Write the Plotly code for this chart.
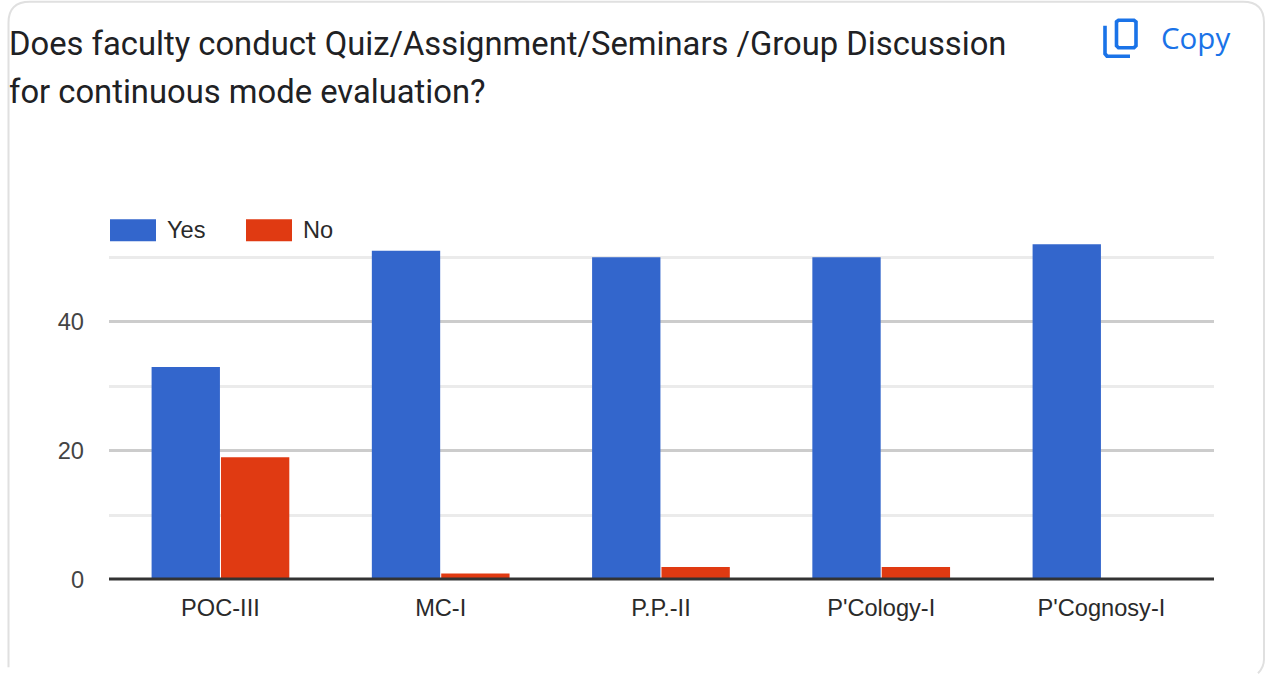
import plotly.graph_objects as go

categories = ["POC-III", "MC-I", "P.P.-II", "P'Cology-I", "P'Cognosy-I"]
yes_values = [33, 51, 50, 50, 52]
no_values = [19, 1, 2, 2, 0]
series_names = ["Yes", "No"]
title_lines = ["Does faculty conduct Quiz/Assignment/Seminars /Group Discussion",
               "for continuous mode evaluation?"]

W, H = 1265, 674
L, R, T, B = 109, 1214, 240.7, 580.5
BLUE, RED = "#3366cc", "#e03a12"


def px(x):
    return (x - L) / (R - L)


def py(y):
    return (B - y) / (B - T)


def path(points, close=False):
    s = "M " + " L ".join(f"{px(x):.5f},{py(y):.5f}" for x, y in points)
    return s + (" Z" if close else "")


def rect(x0, y0, x1, y1, color):
    return dict(type="rect", xref="paper", yref="paper", x0=px(x0), x1=px(x1), y0=py(y0), y1=py(y1),
                fillcolor=color, line=dict(width=0), layer="above")


def text(x, y, s, size, color, family, anchor="left", weight=None):
    return dict(xref="paper", yref="paper", x=px(x), y=py(y), text=s, showarrow=False,
                xanchor=anchor, yanchor="middle", xshift=0, yshift=0,
                font=dict(size=size, color=color, family=family, weight=weight), borderpad=0, borderwidth=0)


fig = go.Figure()
fig.add_bar(x=categories, y=yes_values, name=series_names[0], marker=dict(color=BLUE, line=dict(width=0)))
fig.add_bar(x=categories, y=no_values, name=series_names[1], marker=dict(color=RED, line=dict(width=0)))

border = dict(type="path", xref="paper", yref="paper", layer="below",
              path=(f"M {px(8.5):.5f},{py(668):.5f} L {px(8.5):.5f},{py(22):.5f} "
                    f"Q {px(8.5):.5f},{py(1):.5f} {px(30):.5f},{py(1):.5f} "
                    f"L {px(1243):.5f},{py(1):.5f} Q {px(1264):.5f},{py(1):.5f} {px(1264):.5f},{py(22):.5f} "
                    f"L {px(1264):.5f},{py(660):.5f} Q {px(1264):.5f},{py(668):.5f} {px(1258):.5f},{py(674):.5f}"),
              line=dict(color="#e0e0e0", width=2))

icon_front = dict(type="path", xref="paper", yref="paper", layer="above",
                  path=path([(1116.5, 21), (1118.5, 19.5), (1134, 19.5), (1136, 21), (1136, 45), (1134, 47),
                             (1118.5, 47), (1116.5, 45)], True),
                  line=dict(color="#1a73e8", width=3.6))
icon_back = dict(type="path", xref="paper", yref="paper", layer="above",
                 path=path([(1105, 25), (1105, 53), (1107, 55.5), (1130, 55.5)]),
                 line=dict(color="#1a73e8", width=3.6))
baseline = rect(L, 578, R, 581, "#333333")

fig.update_layout(
    width=W, height=H, autosize=False,
    margin=dict(l=L, r=W - R, t=T, b=H - B, pad=0),
    paper_bgcolor="white", plot_bgcolor="white",
    showlegend=False, barmode="group", bargap=0.37, bargroupgap=0.015,
    font=dict(family="Liberation Sans, Arial, sans-serif"),
    xaxis=dict(range=[-0.506, 4.511], showgrid=False, showline=False, ticks="",
               tickfont=dict(size=23.6, color="#2a2a2a"), ticklabelstandoff=11, zeroline=False),
    yaxis=dict(range=[0, 52.5], dtick=20, tick0=0, gridcolor="#cccccc", gridwidth=3, zeroline=False,
               showline=False, ticks="", tickfont=dict(size=23.6, color="#444444"), ticklabelstandoff=24,
               minor=dict(dtick=10, tick0=0, showgrid=True, gridcolor="#ebebeb", gridwidth=3, ticks="")),
    shapes=[border, icon_front, icon_back, baseline, rect(110, 219, 156, 241, BLUE), rect(246, 219, 292, 241, RED)],
    annotations=[
        text(9, 43.5, title_lines[0], 32.75, "#202124", "Roboto"),
        text(9, 91.5, title_lines[1], 32.75, "#202124", "Roboto"),
        text(1161, 36.5, "Copy", 29.5, "#1a73e8", "Open Sans", weight=500),
        text(167, 230, series_names[0], 23.6, "#2a2a2a", "Liberation Sans"),
        text(303, 230, series_names[1], 23.6, "#2a2a2a", "Liberation Sans"),
    ],
)

fig.write_html("out.html", config={"displayModeBar": False},
               post_script="document.body.style.margin='0';document.documentElement.style.overflow='hidden';")
